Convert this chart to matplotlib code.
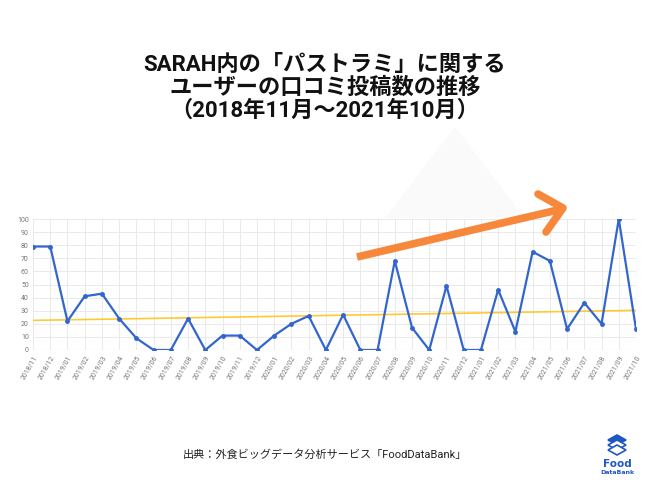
import matplotlib.pyplot as plt
from matplotlib.patches import Polygon
import numpy as np

plt.rcParams['font.family'] = ['Roboto', 'Noto Sans CJK JP', 'DejaVu Sans']

# 月ラベル
months = ["2018/11", "2018/12",
          "2019/01", "2019/02", "2019/03", "2019/04", "2019/05", "2019/06",
          "2019/07", "2019/08", "2019/09", "2019/10", "2019/11", "2019/12",
          "2020/01", "2020/02", "2020/03", "2020/04", "2020/05", "2020/06",
          "2020/07", "2020/08", "2020/09", "2020/10", "2020/11", "2020/12",
          "2021/01", "2021/02", "2021/03", "2021/04", "2021/05", "2021/06",
          "2021/07", "2021/08", "2021/09", "2021/10"]

# 口コミ投稿数（指数）
posts = [79, 79, 22, 41, 43, 24, 9, 0, 0, 24, 0, 11, 11, 0,
         11, 20, 26, 0, 27, 0, 0, 68, 17, 0, 49, 0,
         0, 46, 14, 75, 68, 16, 36, 20, 100, 16]

y_ticks = list(range(0, 101, 10))

title = "SARAH内の「パストラミ」に関する\nユーザーの口コミ投稿数の推移\n（2018年11月〜2021年10月）"
source = "出典：外食ビッグデータ分析サービス「FoodDataBank」"

fig = plt.figure(figsize=(6.5, 4.88), dpi=100)

# 背景の薄い三角形
tri = Polygon([[455/650, 1-127/488], [385/650, 1-218/488], [525/650, 1-218/488]],
              closed=True, transform=fig.transFigure, facecolor="#fafafa",
              edgecolor="none", zorder=0)
fig.patches.append(tri)

ax = fig.add_axes([33/650, 1-350/488, (636-33)/650, (350-219)/488])
ax.patch.set_alpha(0)

x = np.arange(len(months))
# 近似直線
coef = np.polyfit(x, posts, 1)
ax.plot(x, np.polyval(coef, x), color="#FFC933", linewidth=1.2, zorder=2)

ax.plot(x, posts, color="#3366CC", linewidth=1.6, marker="o", markersize=2.5,
        markerfacecolor="#3366CC", markeredgecolor="#3366CC", zorder=3)

ax.set_xlim(0, len(months) - 1)
ax.set_ylim(0, 100)
ax.set_yticks(y_ticks)
ax.set_xticks(x)
ax.set_xticklabels(months, rotation=60, ha="right", rotation_mode="anchor")
ax.tick_params(axis="both", labelsize=5, colors="#777777", length=0, pad=3)
ax.grid(True, color="#e6e6e6", linewidth=0.6)
for s in ax.spines.values():
    s.set_visible(False)
ax.axhline(0, color="#cccccc", linewidth=0.8, zorder=1)

# 矢印（オレンジ）
arrow_kw = dict(color="#F7873A", linewidth=5.5, solid_capstyle="butt",
                transform=fig.transFigure, zorder=5)
fig.add_artist(plt.Line2D([357/650, 562/650], [1-257/488, 1-209/488], **arrow_kw))
arrow_kw["solid_capstyle"] = "round"
fig.add_artist(plt.Line2D([538/650, 563/650, 546/650],
                          [1-194/488, 1-208/488, 1-232/488],
                          solid_joinstyle="round", **arrow_kw))

fig.text(0.5, 1-88/488, title, ha="center", va="center", fontsize=16,
         fontweight="bold", color="#111111", linespacing=1.05)

fig.text(325/650, 1-455/488, source, ha="center", va="center", fontsize=8,
         color="#222222")

# ロゴ
logo_blue = "#1F57C3"
for i, yy in enumerate([440, 445, 450]):
    fig.add_artist(Polygon([[617/650, 1-(yy-5)/488], [626/650, 1-yy/488],
                            [617/650, 1-(yy+5)/488], [608/650, 1-yy/488]],
                           closed=True, transform=fig.transFigure,
                           facecolor=logo_blue if i == 0 else "white",
                           edgecolor=logo_blue, linewidth=1.2, zorder=6))
fig.text(617/650, 1-464/488, "Food", ha="center", va="center", fontsize=7.5,
         fontweight="bold", color=logo_blue, family="DejaVu Sans")
fig.text(617/650, 1-473/488, "DataBank", ha="center", va="center", fontsize=4.5,
         fontweight="bold", color=logo_blue, family="DejaVu Sans")

fig.savefig("out.png", dpi=100)
